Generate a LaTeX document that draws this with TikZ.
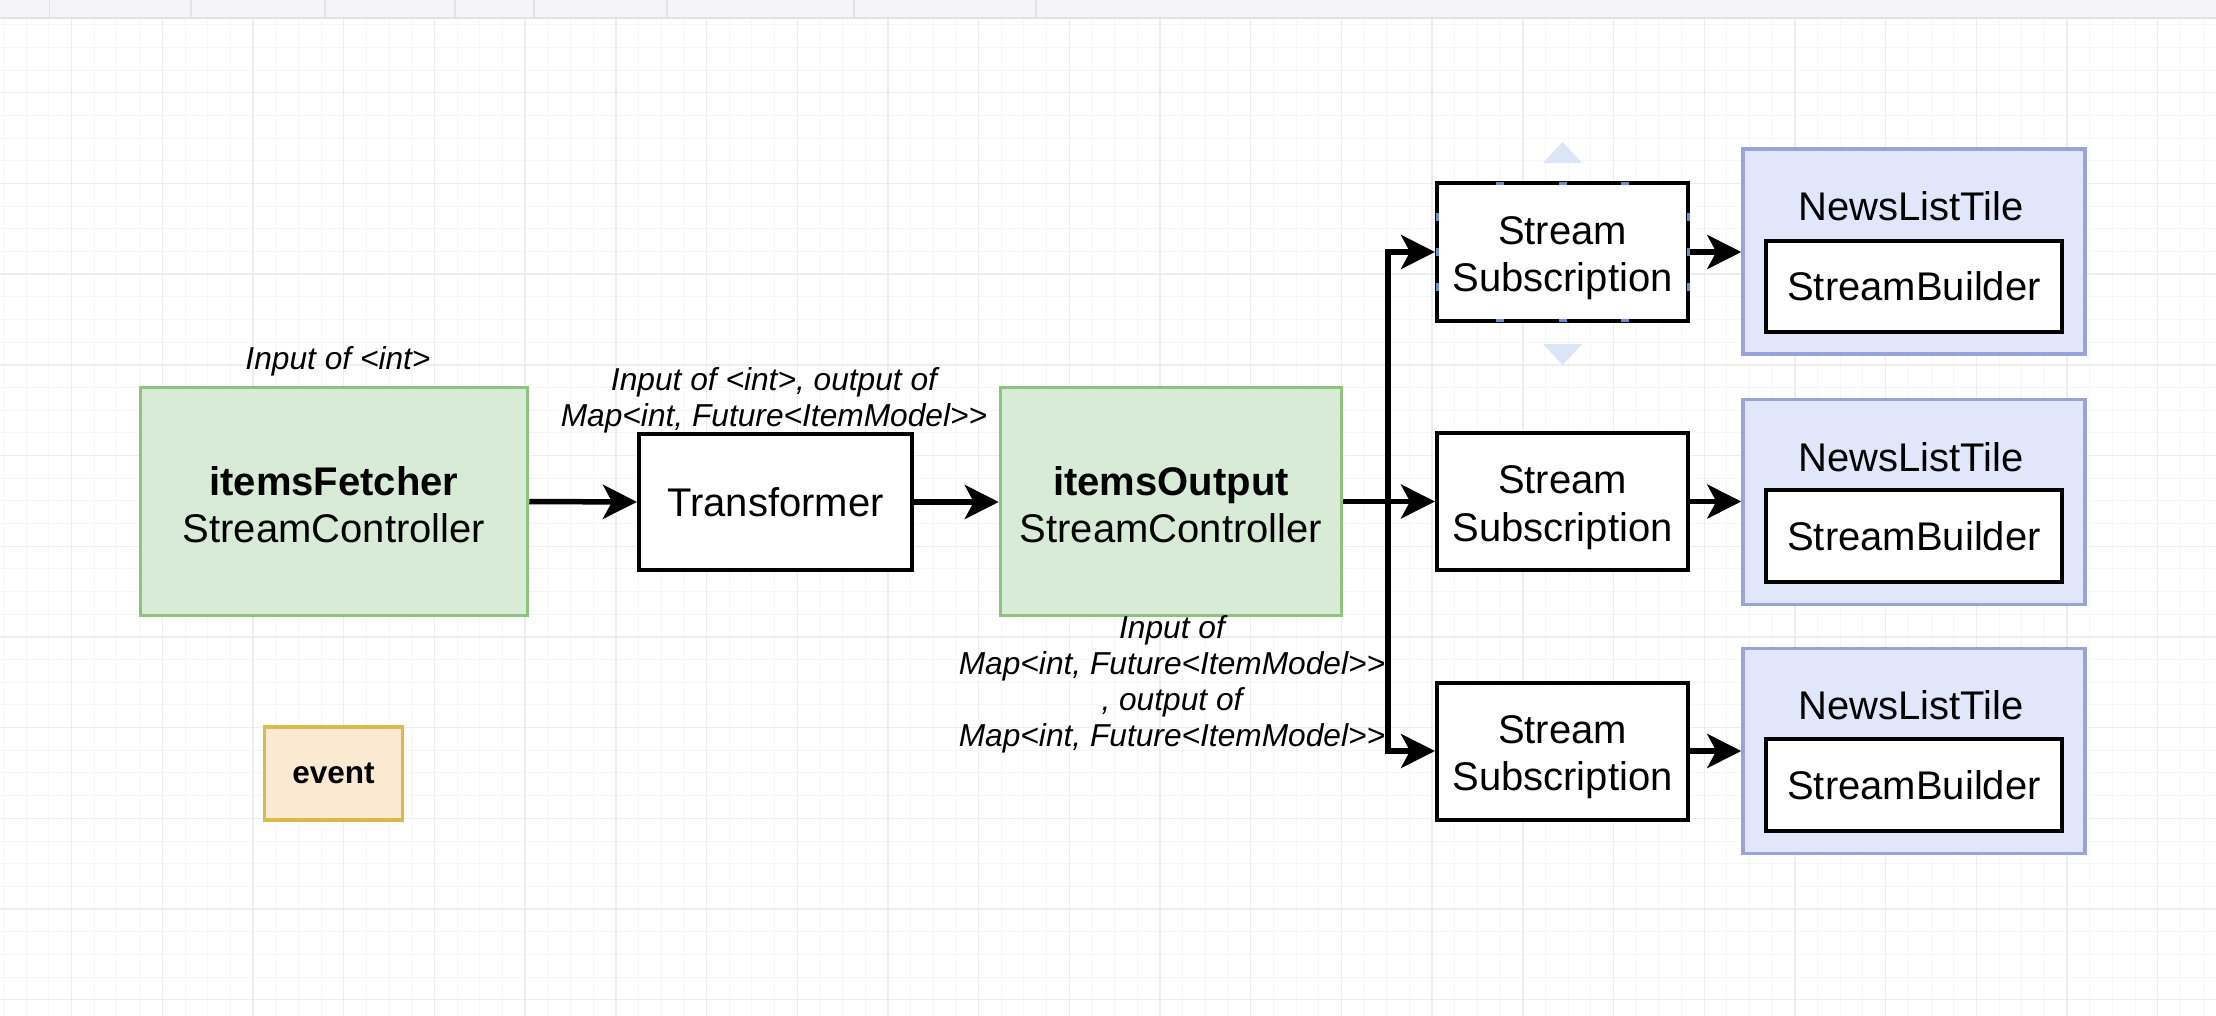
\documentclass[tikz,border=0pt]{standalone}
\usepackage{fontspec}
\setmainfont{Liberation Sans}
\usetikzlibrary{arrows.meta}
\definecolor{gfill}{HTML}{D8EBD6}
\definecolor{gborder}{HTML}{8CC47E}
\definecolor{bfill}{HTML}{E2E6FA}
\definecolor{bborder}{HTML}{99A3D9}
\definecolor{efill}{HTML}{FBE9D1}
\definecolor{eborder}{HTML}{D8BB4A}
\definecolor{gridminor}{HTML}{F6F6F8}
\definecolor{gridmajor}{HTML}{EDEDF0}
\definecolor{toolbarfill}{HTML}{F5F4F7}
\definecolor{toolbarline}{HTML}{E2E2E6}
\definecolor{handleblue}{HTML}{DCE4F8}
\definecolor{handledot}{HTML}{6A8AD8}
\newcommand\fsmain{\fontsize{40}{47.5}\selectfont}
\newcommand\fslabel{\fontsize{31.7}{36}\selectfont\itshape}
\newcommand\fsevent{\fontsize{31.5}{36}\selectfont\bfseries}
\begin{document}
\begin{tikzpicture}[x=1pt,y=-1pt,
  plainbox/.style={draw=black, line width=4pt, fill=white, inner sep=0pt, align=center, font=\fsmain},
  greenbox/.style={draw=gborder, fill=gfill, line width=3.5pt, inner sep=0pt, align=center, font=\fsmain},
  bluebox/.style={draw=bborder, fill=bfill, line width=3.5pt, inner sep=0pt},
  eventbox/.style={draw=eborder, fill=efill, line width=3.5pt, inner sep=0pt, font=\fsevent},
  lbl/.style={inner sep=0pt, align=center, font=\fslabel},
  ttl/.style={inner sep=0pt, align=center, font=\fsmain},
  arr/.style={line width=5.5pt, line join=miter, -{Stealth[length=34pt,width=34pt,inset=9pt]}},
  minorln/.style={draw=gridminor, line width=1pt},
  majorln/.style={draw=gridmajor, line width=1.4pt}
]
\useasboundingbox (0,0) rectangle (2216,1016);
\fill[white] (0,0) rectangle (2216,1016);
% grid
\foreach \i in {0,...,97} {\draw[minorln] ({3.6+22.675*\i},18) -- ++(0,998);}
\foreach \i in {0,...,44} {\draw[minorln] (0,{24.7+22.675*\i}) -- ++(2216,0);}
\foreach \i in {0,...,23} {\draw[majorln] ({71.6+90.7*\i},18) -- ++(0,998);}
\foreach \i in {0,...,10} {\draw[majorln] (0,{92.7+90.7*\i}) -- ++(2216,0);}
% toolbar
\fill[toolbarfill] (0,0) rectangle (2216,18);
\draw[toolbarline, line width=2pt] (0,18) -- (2216,18);
\foreach \x in {49.5,191,325,455,534,667,854,1036} {\draw[toolbarline, line width=1.2pt] (\x,0) -- (\x,17);}

% main nodes
\node[greenbox, minimum width=387pt, minimum height=228pt] (fetch) at (334,501.5) {};
\node[ttl] (fetcht) at ([yshift=-3pt]fetch.center) {\textbf{itemsFetcher}\\StreamController};
\node[plainbox, minimum width=273pt, minimum height=136pt] (trans) at (775.5,502) {Transformer};
\node[greenbox, minimum width=341pt, minimum height=228pt] (iout) at (1171,501.5) {};
\node[ttl] (ioutt) at ([yshift=-3pt]iout.center) {\textbf{itemsOutput}\\StreamController};

\node[eventbox, minimum width=138pt, minimum height=93pt] (ev) at (333.5,773.5) {event};

% labels
\node[lbl] (l1) at (338,361) {Input of <int>};
\node[lbl] (l2) at (774,400) {Input of <int>, output of\\Map<int, Future<ItemModel>{}>};
\node[lbl] (l3) at (1172,684.5) {Input of\\Map<int, Future<ItemModel>{}>\\, output of\\Map<int, Future<ItemModel>{}>};

% selection handles on first subscription box
\fill[handleblue] (1543,163) -- (1582,163) -- (1562.5,142) -- cycle;
\fill[handleblue] (1543,344) -- (1582,344) -- (1562.5,365) -- cycle;

% stream subscriptions
\foreach \n/\cy in {1/252, 2/501.5, 3/751} {
  \node[plainbox, minimum width=251pt, minimum height=137pt] (ss\n) at (1562.5,\cy) {};
  \node[ttl] (sst\n) at ([yshift=-6pt]ss\n.center) {Stream\\Subscription};
}

\foreach \x in {1500,1562.5,1625} {
  \fill[handledot] (\x-4,182.5) rectangle (\x+4,185.5);
  \fill[handledot] (\x-4,318.5) rectangle (\x+4,321.5);
}
\foreach \y in {217,252,287} {
  \fill[handledot] (1435.5,\y-4) rectangle (1438.5,\y+4);
  \fill[handledot] (1686.5,\y-4) rectangle (1689.5,\y+4);
}

% news list tiles
\foreach \n/\cy/\ty/\by in {1/251.5/206/286.7, 2/501.75/457/535.8, 3/751/705/785} {
  \node[bluebox, minimum width=342pt, minimum height=205pt] (nlt\n) at (1914,\cy) {};
  \node[ttl] (nltt\n) at (1911,\ty) {NewsListTile};
  \node[plainbox, minimum width=296pt, minimum height=91.5pt] (sb\n) at (1914,\by) {StreamBuilder};
}

% connectors
\coordinate (junc) at (1388,501.5);
\draw[arr] (fetch.east) -- (trans.west);
\draw[arr] (trans.east) -- (trans.east -| iout.west);
\draw[arr] (iout.east) -- (ss2.west);
\draw[arr] (junc) |- (ss1.west);
\draw[arr] (junc) |- (ss3.west);
\draw[arr] (ss1.east) -- (nlt1.west |- ss1.east);
\draw[arr] (ss2.east) -- (nlt2.west |- ss2.east);
\draw[arr] (ss3.east) -- (nlt3.west |- ss3.east);
\end{tikzpicture}
\end{document}
